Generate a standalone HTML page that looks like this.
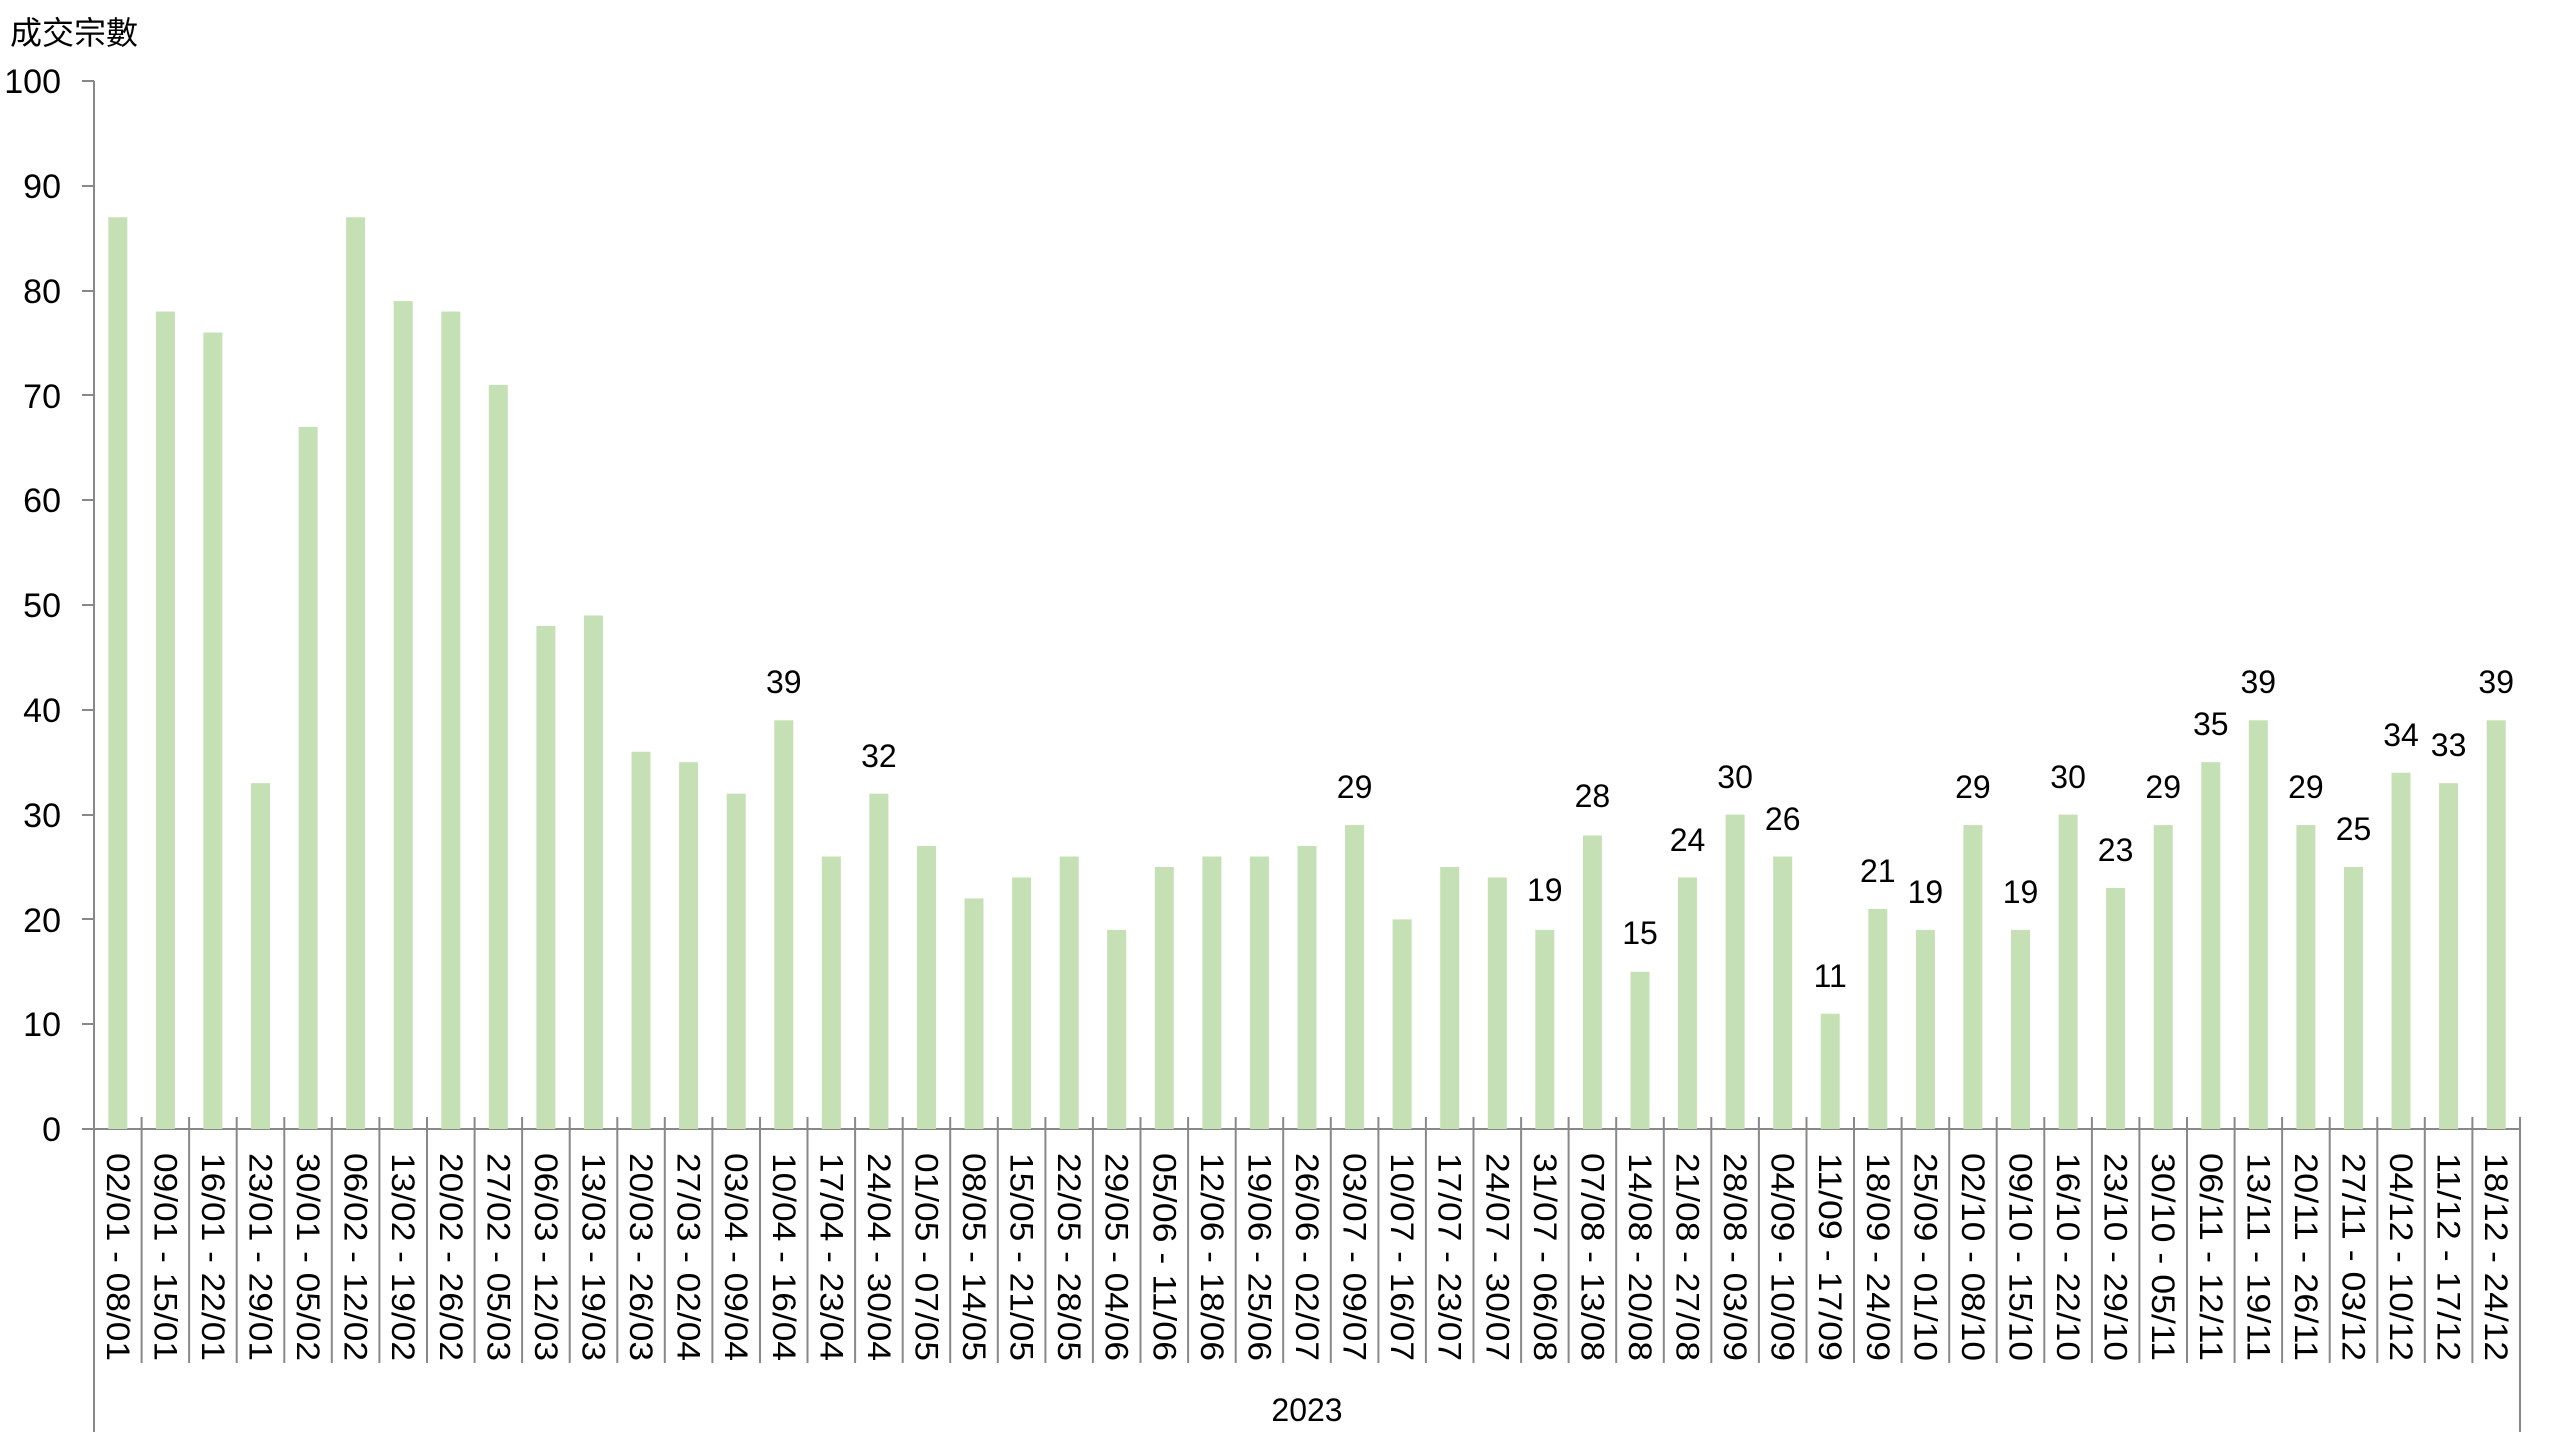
<!DOCTYPE html>
<html><head><meta charset="utf-8"><style>
html,body{margin:0;padding:0;background:#fff;}
svg{display:block;}
text{font-family:"Liberation Sans","Noto Sans CJK TC",sans-serif;fill:#000;}
</style></head><body>
<svg width="2560" height="1440" viewBox="0 0 2560 1440" xmlns="http://www.w3.org/2000/svg">
<text x="10" y="44" font-size="32">成交宗數</text>
<g font-size="34" text-anchor="end">
<text x="61" y="93">100</text><text x="61" y="198">90</text><text x="61" y="303">80</text><text x="61" y="408">70</text><text x="61" y="512">60</text><text x="61" y="617">50</text><text x="61" y="722">40</text><text x="61" y="827">30</text><text x="61" y="932">20</text><text x="61" y="1036">10</text><text x="61" y="1141">0</text>
</g>
<g stroke="#888" stroke-width="2">
<line x1="94" y1="81" x2="94" y2="1432"/>
<line x1="82" y1="81" x2="94" y2="81"/><line x1="82" y1="186" x2="94" y2="186"/><line x1="82" y1="291" x2="94" y2="291"/><line x1="82" y1="395" x2="94" y2="395"/><line x1="82" y1="500" x2="94" y2="500"/><line x1="82" y1="605" x2="94" y2="605"/><line x1="82" y1="710" x2="94" y2="710"/><line x1="82" y1="815" x2="94" y2="815"/><line x1="82" y1="919" x2="94" y2="919"/><line x1="82" y1="1024" x2="94" y2="1024"/>
<line x1="82" y1="1129" x2="2520" y2="1129"/>
<line x1="2520" y1="1117" x2="2520" y2="1432"/>
</g>
<g fill="#c5e0b4" transform="translate(0,1129) scale(1,-10.48)">
<rect x="108.3" y="0" width="19" height="87"/><rect x="155.9" y="0" width="19" height="78"/><rect x="203.4" y="0" width="19" height="76"/><rect x="251" y="0" width="19" height="33"/><rect x="298.6" y="0" width="19" height="67"/><rect x="346.1" y="0" width="19" height="87"/><rect x="393.7" y="0" width="19" height="79"/><rect x="441.3" y="0" width="19" height="78"/><rect x="488.8" y="0" width="19" height="71"/><rect x="536.4" y="0" width="19" height="48"/><rect x="584" y="0" width="19" height="49"/><rect x="631.5" y="0" width="19" height="36"/><rect x="679.1" y="0" width="19" height="35"/><rect x="726.7" y="0" width="19" height="32"/><rect x="774.3" y="0" width="19" height="39"/><rect x="821.8" y="0" width="19" height="26"/><rect x="869.4" y="0" width="19" height="32"/><rect x="917" y="0" width="19" height="27"/><rect x="964.5" y="0" width="19" height="22"/><rect x="1012.1" y="0" width="19" height="24"/><rect x="1059.7" y="0" width="19" height="26"/><rect x="1107.2" y="0" width="19" height="19"/><rect x="1154.8" y="0" width="19" height="25"/><rect x="1202.4" y="0" width="19" height="26"/><rect x="1249.9" y="0" width="19" height="26"/><rect x="1297.5" y="0" width="19" height="27"/><rect x="1345.1" y="0" width="19" height="29"/><rect x="1392.6" y="0" width="19" height="20"/><rect x="1440.2" y="0" width="19" height="25"/><rect x="1487.8" y="0" width="19" height="24"/><rect x="1535.3" y="0" width="19" height="19"/><rect x="1582.9" y="0" width="19" height="28"/><rect x="1630.5" y="0" width="19" height="15"/><rect x="1678" y="0" width="19" height="24"/><rect x="1725.6" y="0" width="19" height="30"/><rect x="1773.2" y="0" width="19" height="26"/><rect x="1820.7" y="0" width="19" height="11"/><rect x="1868.3" y="0" width="19" height="21"/><rect x="1915.9" y="0" width="19" height="19"/><rect x="1963.4" y="0" width="19" height="29"/><rect x="2011" y="0" width="19" height="19"/><rect x="2058.6" y="0" width="19" height="30"/><rect x="2106.1" y="0" width="19" height="23"/><rect x="2153.7" y="0" width="19" height="29"/><rect x="2201.3" y="0" width="19" height="35"/><rect x="2248.8" y="0" width="19" height="39"/><rect x="2296.4" y="0" width="19" height="29"/><rect x="2344" y="0" width="19" height="25"/><rect x="2391.5" y="0" width="19" height="34"/><rect x="2439.1" y="0" width="19" height="33"/><rect x="2486.7" y="0" width="19" height="39"/>
</g>
<g stroke="#888" stroke-width="2">
<line x1="141.6" y1="1117" x2="141.6" y2="1363"/><line x1="189.1" y1="1117" x2="189.1" y2="1363"/><line x1="236.7" y1="1117" x2="236.7" y2="1363"/><line x1="284.3" y1="1117" x2="284.3" y2="1363"/><line x1="331.8" y1="1117" x2="331.8" y2="1363"/><line x1="379.4" y1="1117" x2="379.4" y2="1363"/><line x1="427" y1="1117" x2="427" y2="1363"/><line x1="474.6" y1="1117" x2="474.6" y2="1363"/><line x1="522.1" y1="1117" x2="522.1" y2="1363"/><line x1="569.7" y1="1117" x2="569.7" y2="1363"/><line x1="617.3" y1="1117" x2="617.3" y2="1363"/><line x1="664.8" y1="1117" x2="664.8" y2="1363"/><line x1="712.4" y1="1117" x2="712.4" y2="1363"/><line x1="760" y1="1117" x2="760" y2="1363"/><line x1="807.5" y1="1117" x2="807.5" y2="1363"/><line x1="855.1" y1="1117" x2="855.1" y2="1363"/><line x1="902.7" y1="1117" x2="902.7" y2="1363"/><line x1="950.2" y1="1117" x2="950.2" y2="1363"/><line x1="997.8" y1="1117" x2="997.8" y2="1363"/><line x1="1045.4" y1="1117" x2="1045.4" y2="1363"/><line x1="1092.9" y1="1117" x2="1092.9" y2="1363"/><line x1="1140.5" y1="1117" x2="1140.5" y2="1363"/><line x1="1188.1" y1="1117" x2="1188.1" y2="1363"/><line x1="1235.7" y1="1117" x2="1235.7" y2="1363"/><line x1="1283.2" y1="1117" x2="1283.2" y2="1363"/><line x1="1330.8" y1="1117" x2="1330.8" y2="1363"/><line x1="1378.4" y1="1117" x2="1378.4" y2="1363"/><line x1="1425.9" y1="1117" x2="1425.9" y2="1363"/><line x1="1473.5" y1="1117" x2="1473.5" y2="1363"/><line x1="1521.1" y1="1117" x2="1521.1" y2="1363"/><line x1="1568.6" y1="1117" x2="1568.6" y2="1363"/><line x1="1616.2" y1="1117" x2="1616.2" y2="1363"/><line x1="1663.8" y1="1117" x2="1663.8" y2="1363"/><line x1="1711.3" y1="1117" x2="1711.3" y2="1363"/><line x1="1758.9" y1="1117" x2="1758.9" y2="1363"/><line x1="1806.5" y1="1117" x2="1806.5" y2="1363"/><line x1="1854" y1="1117" x2="1854" y2="1363"/><line x1="1901.6" y1="1117" x2="1901.6" y2="1363"/><line x1="1949.2" y1="1117" x2="1949.2" y2="1363"/><line x1="1996.7" y1="1117" x2="1996.7" y2="1363"/><line x1="2044.3" y1="1117" x2="2044.3" y2="1363"/><line x1="2091.9" y1="1117" x2="2091.9" y2="1363"/><line x1="2139.4" y1="1117" x2="2139.4" y2="1363"/><line x1="2187" y1="1117" x2="2187" y2="1363"/><line x1="2234.6" y1="1117" x2="2234.6" y2="1363"/><line x1="2282.1" y1="1117" x2="2282.1" y2="1363"/><line x1="2329.7" y1="1117" x2="2329.7" y2="1363"/><line x1="2377.3" y1="1117" x2="2377.3" y2="1363"/><line x1="2424.8" y1="1117" x2="2424.8" y2="1363"/><line x1="2472.4" y1="1117" x2="2472.4" y2="1363"/>
</g>
<g font-size="32" text-anchor="middle">
<text x="783.8" y="693">39</text><text x="878.9" y="767">32</text><text x="1354.6" y="798">29</text><text x="1544.8" y="901">19</text><text x="1592.4" y="807">28</text><text x="1640" y="944">15</text><text x="1687.5" y="851">24</text><text x="1735.1" y="788">30</text><text x="1782.7" y="830">26</text><text x="1830.2" y="987">11</text><text x="1877.8" y="882">21</text><text x="1925.4" y="903">19</text><text x="1972.9" y="798">29</text><text x="2020.5" y="903">19</text><text x="2068.1" y="788">30</text><text x="2115.6" y="861">23</text><text x="2163.2" y="798">29</text><text x="2210.8" y="735">35</text><text x="2258.3" y="693">39</text><text x="2305.9" y="798">29</text><text x="2353.5" y="840">25</text><text x="2401" y="746">34</text><text x="2448.6" y="756">33</text><text x="2496.2" y="693">39</text>
</g>
<g font-size="32">
<text transform="translate(107,1153) rotate(90)" textLength="208" lengthAdjust="spacingAndGlyphs">02/01 - 08/01</text>
<text transform="translate(154.4,1153) rotate(90)" textLength="208" lengthAdjust="spacingAndGlyphs">09/01 - 15/01</text>
<text transform="translate(201.9,1153) rotate(90)" textLength="208" lengthAdjust="spacingAndGlyphs">16/01 - 22/01</text>
<text transform="translate(249.5,1153) rotate(90)" textLength="208" lengthAdjust="spacingAndGlyphs">23/01 - 29/01</text>
<text transform="translate(297.1,1153) rotate(90)" textLength="208" lengthAdjust="spacingAndGlyphs">30/01 - 05/02</text>
<text transform="translate(344.6,1153) rotate(90)" textLength="208" lengthAdjust="spacingAndGlyphs">06/02 - 12/02</text>
<text transform="translate(392.2,1153) rotate(90)" textLength="208" lengthAdjust="spacingAndGlyphs">13/02 - 19/02</text>
<text transform="translate(439.8,1153) rotate(90)" textLength="208" lengthAdjust="spacingAndGlyphs">20/02 - 26/02</text>
<text transform="translate(487.3,1153) rotate(90)" textLength="208" lengthAdjust="spacingAndGlyphs">27/02 - 05/03</text>
<text transform="translate(534.9,1153) rotate(90)" textLength="208" lengthAdjust="spacingAndGlyphs">06/03 - 12/03</text>
<text transform="translate(582.5,1153) rotate(90)" textLength="208" lengthAdjust="spacingAndGlyphs">13/03 - 19/03</text>
<text transform="translate(630,1153) rotate(90)" textLength="208" lengthAdjust="spacingAndGlyphs">20/03 - 26/03</text>
<text transform="translate(677.6,1153) rotate(90)" textLength="208" lengthAdjust="spacingAndGlyphs">27/03 - 02/04</text>
<text transform="translate(725.2,1153) rotate(90)" textLength="208" lengthAdjust="spacingAndGlyphs">03/04 - 09/04</text>
<text transform="translate(772.8,1153) rotate(90)" textLength="208" lengthAdjust="spacingAndGlyphs">10/04 - 16/04</text>
<text transform="translate(820.3,1153) rotate(90)" textLength="208" lengthAdjust="spacingAndGlyphs">17/04 - 23/04</text>
<text transform="translate(867.9,1153) rotate(90)" textLength="208" lengthAdjust="spacingAndGlyphs">24/04 - 30/04</text>
<text transform="translate(915.5,1153) rotate(90)" textLength="208" lengthAdjust="spacingAndGlyphs">01/05 - 07/05</text>
<text transform="translate(963,1153) rotate(90)" textLength="208" lengthAdjust="spacingAndGlyphs">08/05 - 14/05</text>
<text transform="translate(1010.6,1153) rotate(90)" textLength="208" lengthAdjust="spacingAndGlyphs">15/05 - 21/05</text>
<text transform="translate(1058.2,1153) rotate(90)" textLength="208" lengthAdjust="spacingAndGlyphs">22/05 - 28/05</text>
<text transform="translate(1105.7,1153) rotate(90)" textLength="208" lengthAdjust="spacingAndGlyphs">29/05 - 04/06</text>
<text transform="translate(1153.3,1153) rotate(90)" textLength="208" lengthAdjust="spacingAndGlyphs">05/06 - 11/06</text>
<text transform="translate(1200.9,1153) rotate(90)" textLength="208" lengthAdjust="spacingAndGlyphs">12/06 - 18/06</text>
<text transform="translate(1248.4,1153) rotate(90)" textLength="208" lengthAdjust="spacingAndGlyphs">19/06 - 25/06</text>
<text transform="translate(1296,1153) rotate(90)" textLength="208" lengthAdjust="spacingAndGlyphs">26/06 - 02/07</text>
<text transform="translate(1343.6,1153) rotate(90)" textLength="208" lengthAdjust="spacingAndGlyphs">03/07 - 09/07</text>
<text transform="translate(1391.1,1153) rotate(90)" textLength="208" lengthAdjust="spacingAndGlyphs">10/07 - 16/07</text>
<text transform="translate(1438.7,1153) rotate(90)" textLength="208" lengthAdjust="spacingAndGlyphs">17/07 - 23/07</text>
<text transform="translate(1486.3,1153) rotate(90)" textLength="208" lengthAdjust="spacingAndGlyphs">24/07 - 30/07</text>
<text transform="translate(1533.8,1153) rotate(90)" textLength="208" lengthAdjust="spacingAndGlyphs">31/07 - 06/08</text>
<text transform="translate(1581.4,1153) rotate(90)" textLength="208" lengthAdjust="spacingAndGlyphs">07/08 - 13/08</text>
<text transform="translate(1629,1153) rotate(90)" textLength="208" lengthAdjust="spacingAndGlyphs">14/08 - 20/08</text>
<text transform="translate(1676.5,1153) rotate(90)" textLength="208" lengthAdjust="spacingAndGlyphs">21/08 - 27/08</text>
<text transform="translate(1724.1,1153) rotate(90)" textLength="208" lengthAdjust="spacingAndGlyphs">28/08 - 03/09</text>
<text transform="translate(1771.7,1153) rotate(90)" textLength="208" lengthAdjust="spacingAndGlyphs">04/09 - 10/09</text>
<text transform="translate(1819.2,1153) rotate(90)" textLength="208" lengthAdjust="spacingAndGlyphs">11/09 - 17/09</text>
<text transform="translate(1866.8,1153) rotate(90)" textLength="208" lengthAdjust="spacingAndGlyphs">18/09 - 24/09</text>
<text transform="translate(1914.4,1153) rotate(90)" textLength="208" lengthAdjust="spacingAndGlyphs">25/09 - 01/10</text>
<text transform="translate(1961.9,1153) rotate(90)" textLength="208" lengthAdjust="spacingAndGlyphs">02/10 - 08/10</text>
<text transform="translate(2009.5,1153) rotate(90)" textLength="208" lengthAdjust="spacingAndGlyphs">09/10 - 15/10</text>
<text transform="translate(2057.1,1153) rotate(90)" textLength="208" lengthAdjust="spacingAndGlyphs">16/10 - 22/10</text>
<text transform="translate(2104.6,1153) rotate(90)" textLength="208" lengthAdjust="spacingAndGlyphs">23/10 - 29/10</text>
<text transform="translate(2152.2,1153) rotate(90)" textLength="208" lengthAdjust="spacingAndGlyphs">30/10 - 05/11</text>
<text transform="translate(2199.8,1153) rotate(90)" textLength="208" lengthAdjust="spacingAndGlyphs">06/11 - 12/11</text>
<text transform="translate(2247.3,1153) rotate(90)" textLength="208" lengthAdjust="spacingAndGlyphs">13/11 - 19/11</text>
<text transform="translate(2294.9,1153) rotate(90)" textLength="208" lengthAdjust="spacingAndGlyphs">20/11 - 26/11</text>
<text transform="translate(2342.5,1153) rotate(90)" textLength="208" lengthAdjust="spacingAndGlyphs">27/11 - 03/12</text>
<text transform="translate(2390,1153) rotate(90)" textLength="208" lengthAdjust="spacingAndGlyphs">04/12 - 10/12</text>
<text transform="translate(2437.6,1153) rotate(90)" textLength="208" lengthAdjust="spacingAndGlyphs">11/12 - 17/12</text>
<text transform="translate(2485.2,1153) rotate(90)" textLength="208" lengthAdjust="spacingAndGlyphs">18/12 - 24/12</text>
</g>
<text x="1307" y="1421" font-size="32" text-anchor="middle">2023</text>
</svg>
</body></html>
